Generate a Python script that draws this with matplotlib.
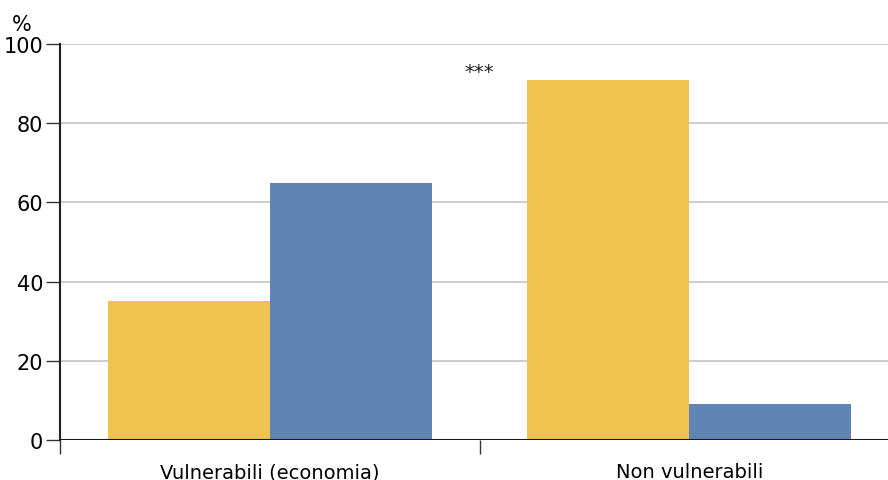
import numpy as np
import matplotlib
matplotlib.use("Agg")
import matplotlib.pyplot as plt
from matplotlib.ticker import FixedLocator, NullFormatter

plt.rcParams['font.family'] = ['DejaVu Sans Condensed', 'DejaVu Sans']

categories = ['Vulnerabili (economia)', 'Non vulnerabili']
yellow_vals = [35, 91]
blue_vals = [65, 9]
yticks = [0, 20, 40, 60, 80, 100]

fig = plt.figure(figsize=(8.88, 4.81), dpi=100)
# axis runs a bit past the right edge of the picture
ax = fig.add_axes([60/888, 1 - 441/481, 839/888, 396/481])

x = np.arange(len(categories))
w = 0.386
ax.bar(x - w/2, yellow_vals, width=w, color='#EFC34F', zorder=2)
ax.bar(x + w/2, blue_vals, width=w, color='#6085B5', zorder=2)

ax.set_xlim(-0.5, 1.5)
ax.set_ylim(0, 100)
ax.set_yticks(yticks)
for t in yticks[1:]:
    ax.axhline(t, color='#BFC0C4', lw=1.1, zorder=1)
ax.axhline(0, color='#1a1a1a', lw=1.5, zorder=3)

ax.set_xticks(x)
ax.set_xticklabels(categories, fontsize=14)
ax.tick_params(axis='x', which='major', length=0, pad=16)
ax.xaxis.set_minor_locator(FixedLocator([-0.5, 0.5, 1.5]))
ax.xaxis.set_minor_formatter(NullFormatter())
ax.tick_params(axis='x', which='minor', length=10, width=1, color='#333333', direction='out')
ax.tick_params(axis='y', length=10, width=1, color='#333333', labelsize=15, pad=2)

for s in ['top', 'right', 'bottom']:
    ax.spines[s].set_visible(False)
ax.spines['left'].set_color('#222222')
ax.spines['left'].set_linewidth(1.5)

ax.text(0.5, 93, '***', ha='center', va='center', fontsize=14, color='#222222')
fig.text(12/888, 1 - 25/481, '%', ha='left', va='center', fontsize=15)

fig.savefig('out.png', dpi=100)
